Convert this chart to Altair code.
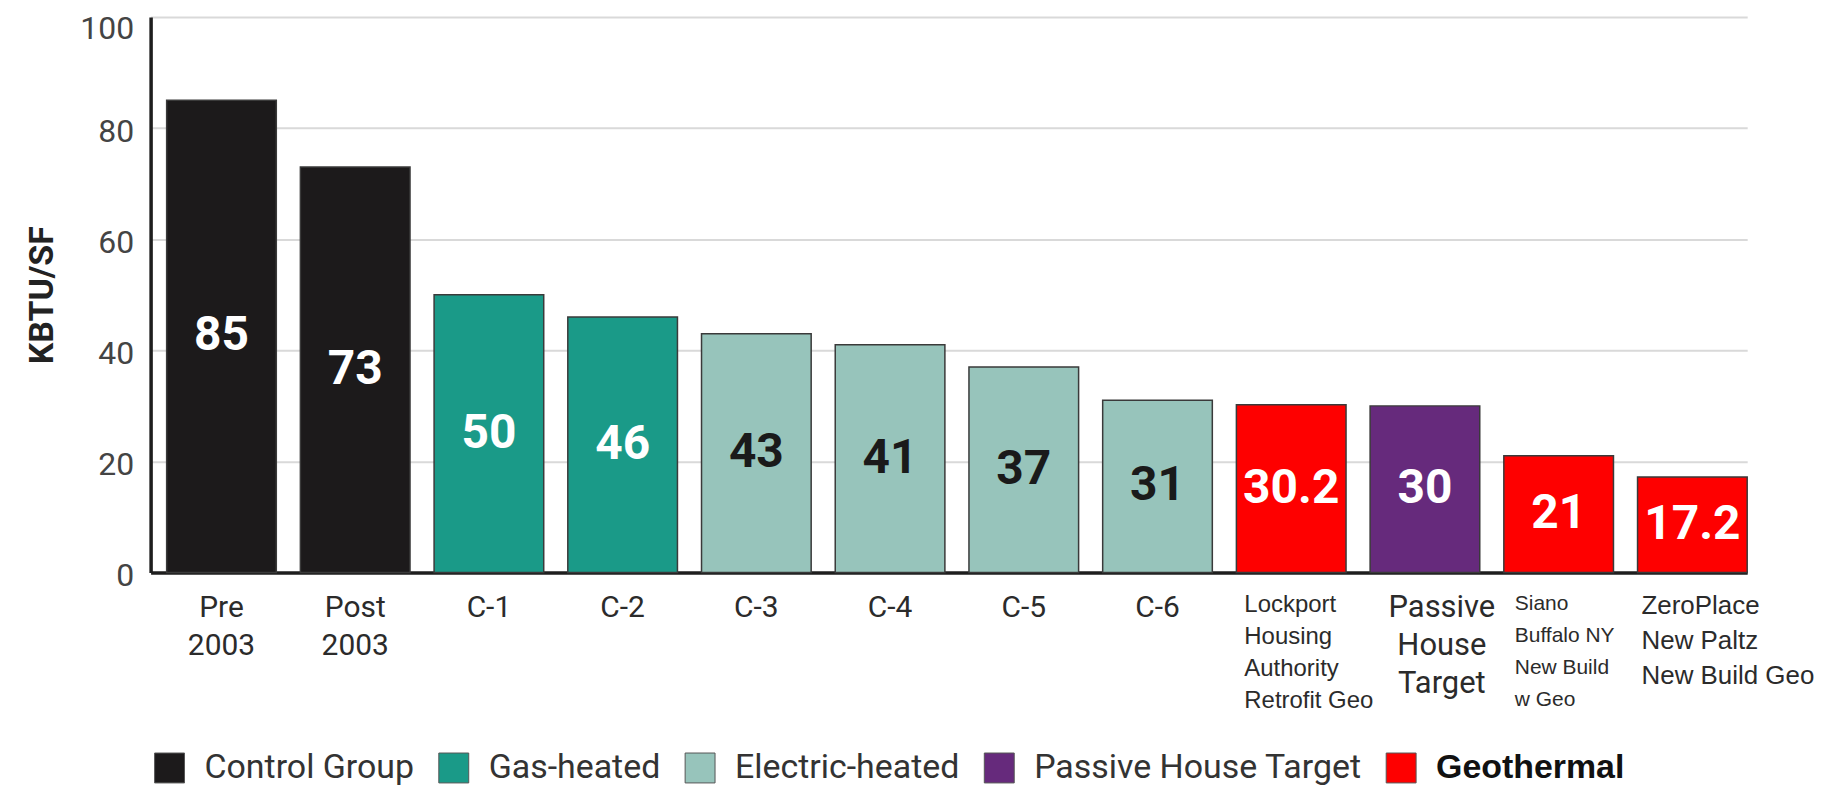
import altair as alt
import pandas as pd

# ---- data ----
label_lines = [
    ["Pre", "2003"],
    ["Post", "2003"],
    ["C-1"],
    ["C-2"],
    ["C-3"],
    ["C-4"],
    ["C-5"],
    ["C-6"],
    ["Lockport", "Housing", "Authority", "Retrofit Geo"],
    ["Passive", "House", "Target"],
    ["Siano", "Buffalo NY", "New Build", "w Geo"],
    ["ZeroPlace", "New Paltz", "New Build Geo"],
]
values = [85, 73, 50, 46, 43, 41, 37, 31, 30.2, 30, 21, 17.2]
groups = [
    "Control Group", "Control Group",
    "Gas-heated", "Gas-heated",
    "Electric-heated", "Electric-heated", "Electric-heated", "Electric-heated",
    "Geothermal", "Passive House Target", "Geothermal", "Geothermal",
]
legend_order = ["Control Group", "Gas-heated", "Electric-heated", "Passive House Target", "Geothermal"]
legend_colors = ["#1c1a1b", "#1a9a88", "#97c4bb", "#662a7c", "#fe0000"]
y_ticks = [0, 20, 40, 60, 80, 100]

categories = ["|".join(l) for l in label_lines]
df = pd.DataFrame({"cat": categories, "value": values, "group": groups})

is_arial = ("(indexof(datum.value,'Lockport')==0 || indexof(datum.value,'Siano')==0 "
            "|| indexof(datum.value,'ZeroPlace')==0)")

x_axis = alt.Axis(
    title=None,
    labelAngle=0,
    ticks=False,
    domainColor="#1e1e1e",
    domainWidth=3.5,
    labelExpr="split(datum.value, '|')",
    labelPadding=20,
    labelLimit=400,
    labelOverlap=False,
    labelBaseline="top",
    labelColor="#2b2b2b",
    labelFont={"expr": is_arial + " ? 'Liberation Sans' : 'Roboto'"},
    labelFontSize={"expr": "indexof(datum.value,'Lockport')==0 ? 24 : indexof(datum.value,'Siano')==0 ? 21 : "
                           "indexof(datum.value,'ZeroPlace')==0 ? 26 : indexof(datum.value,'Passive')==0 ? 31 : 30"},
    labelAlign={"expr": is_arial + " ? 'left' : 'center'"},
    labelOffset={"expr": "indexof(datum.value,'Lockport')==0 ? -47 : indexof(datum.value,'Siano')==0 ? -44 : "
                         "indexof(datum.value,'ZeroPlace')==0 ? -51 : indexof(datum.value,'Passive')==0 ? 17 : 0"},
    labelLineHeight={"expr": "indexof(datum.value,'Lockport')==0 ? 32 : indexof(datum.value,'Siano')==0 ? 32 : "
                             "indexof(datum.value,'ZeroPlace')==0 ? 35 : 38"},
)

y_axis = alt.Axis(
    values=y_ticks,
    title="KBTU/SF",
    titleFont="Roboto",
    titleFontSize=34,
    titleFontWeight="bold",
    titleColor="#222222",
    titlePadding=20,
    labelFont="Roboto",
    labelFontSize=32,
    labelColor="#444444",
    labelPadding=17,
    labelOffset={"expr": "datum.value == 100 ? 12 : 3"},
    ticks=False,
    domainColor="#1e1e1e",
    domainWidth=3.5,
    gridColor="#d9d9d9",
    gridWidth=2,
)

y_scale = alt.Scale(domain=[0, 100], nice=False)

x_enc = alt.X(
    "cat:N",
    sort=categories,
    scale=alt.Scale(paddingInner=0.18, paddingOuter=0.06, align=1),
    axis=x_axis,
)

legend = alt.Legend(
    title=None,
    orient="none",
    legendX=2,
    legendY=736,
    direction="horizontal",
    symbolType="square",
    symbolSize=900,
    symbolStrokeColor="#555555",
    symbolStrokeWidth=1,
    symbolOpacity=1,
    labelOffset=18,
    columnPadding=22,
    labelLimit=400,
    labelFont={"expr": "datum.label == 'Geothermal' ? 'Liberation Sans' : 'Roboto'"},
    labelFontSize={"expr": "datum.label == 'Geothermal' ? 34 : 34"},
    labelFontWeight={"expr": "datum.label == 'Geothermal' ? 'bold' : 'normal'"},
    labelColor={"expr": "datum.label == 'Geothermal' ? '#111111' : '#333333'"},
)

bars = alt.Chart(df).mark_bar(stroke="#3a3a3a", strokeWidth=1.5).encode(
    x=x_enc,
    y=alt.Y("value:Q", scale=y_scale, axis=y_axis),
    color=alt.Color("group:N", scale=alt.Scale(domain=legend_order, range=legend_colors), legend=legend),
)

labels = alt.Chart(df).transform_calculate(
    mid="datum.value / 2"
).mark_text(
    font="Roboto", fontSize=48, fontWeight="bold", baseline="middle", align="center"
).encode(
    x=alt.X("cat:N", sort=categories, axis=x_axis),
    y=alt.Y("mid:Q", scale=y_scale, axis=y_axis),
    text=alt.Text("value:Q", format=".1~f"),
    color=alt.condition(alt.datum.group == "Electric-heated", alt.value("#1a1a1a"), alt.value("#ffffff")),
)

chart = alt.layer(bars, labels).properties(
    width=1601,
    height=557,
    autosize=alt.AutoSizeParams(type="none"),
    padding={"left": 143, "top": 8, "right": 70, "bottom": 213},
    background="white",
).configure_view(stroke=None)

chart.save("out.html", embed_options={"renderer": "svg", "actions": False})
